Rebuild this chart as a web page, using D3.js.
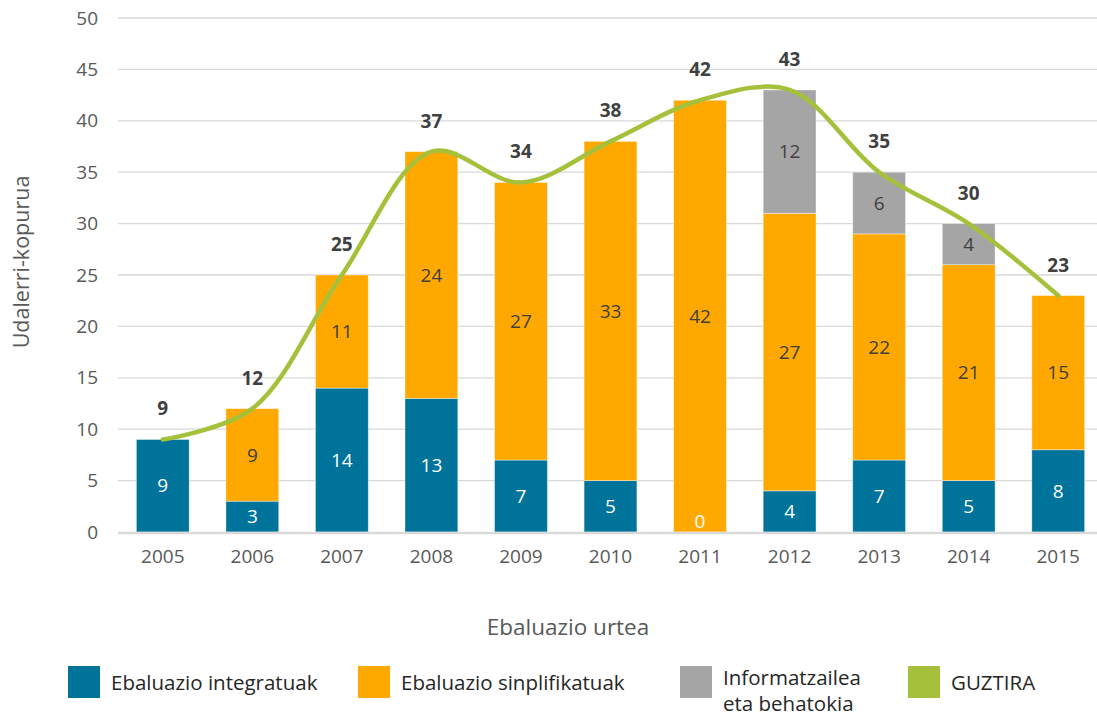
<!DOCTYPE html>
<html>
<head>
<meta charset="utf-8">
<style>
  body { margin: 0; background: #fff; }
  svg { display: block; font-family: "Open Sans", "Noto Sans", sans-serif; }
</style>
</head>
<body>
<div id="chart"></div>
<script src="https://d3js.org/d3.v7.min.js"></script>
<script>
const years = ["2005", "2006", "2007", "2008", "2009", "2010", "2011", "2012", "2013", "2014", "2015"];
const integratuak = [9, 3, 14, 13, 7, 5, 0, 4, 7, 5, 8];
const sinplifikatuak = [0, 9, 11, 24, 27, 33, 42, 27, 22, 21, 15];
const informatzailea = [0, 0, 0, 0, 0, 0, 0, 12, 6, 4, 0];
const guztira = [9, 12, 25, 37, 34, 38, 42, 43, 35, 30, 23];
const yTicks = [0, 5, 10, 15, 20, 25, 30, 35, 40, 45, 50];

const seriesNames = ["Ebaluazio integratuak", "Ebaluazio sinplifikatuak", "Informatzailea eta behatokia"];
const colors = ["#00739A", "#FFA800", "#A5A5A5"];
const lineColor = "#A5C13C";

const W = 1097, H = 718;
const plot = { left: 118, right: 1103, top: 18, bottom: 532 };

const svg = d3.select("#chart").append("svg")
  .attr("width", W).attr("height", H);

const x = d3.scaleBand().domain(years).range([plot.left, plot.right]).paddingInner(0.41).paddingOuter(0.205);
const y = d3.scaleLinear().domain([0, 50]).range([plot.bottom, plot.top]);

// gridlines
svg.append("g").selectAll("line")
  .data(yTicks.filter(d => d > 0))
  .join("line")
  .attr("x1", plot.left).attr("x2", plot.right)
  .attr("y1", d => y(d)).attr("y2", d => y(d))
  .attr("stroke", "#D9D9D9").attr("stroke-width", 1.3);

// y tick labels
const yAxis = d3.axisLeft(y).tickValues(yTicks).tickSize(0).tickPadding(20);
const gy = svg.append("g").attr("transform", `translate(${plot.left},0)`).call(yAxis);
gy.select(".domain").remove();
gy.selectAll("text").attr("font-size", 19).attr("fill", "#595959").attr("font-family", "Open Sans");

// stacked bars
const rows = years.map((yr, i) => ({ year: yr, a: integratuak[i], b: sinplifikatuak[i], c: informatzailea[i] }));
const stack = d3.stack().keys(["a", "b", "c"])(rows);

const layers = svg.append("g").selectAll("g")
  .data(stack).join("g")
  .attr("fill", (d, i) => colors[i]);

layers.selectAll("rect")
  .data(d => d.filter(p => p[1] - p[0] > 0))
  .join("rect")
  .attr("x", d => x(d.data.year))
  .attr("width", x.bandwidth())
  .attr("y", d => y(d[1]))
  .attr("height", d => y(d[0]) - y(d[1]))
  .attr("stroke", "#ffffff").attr("stroke-opacity", 0.5).attr("stroke-width", 0.8);

// x axis baseline
svg.append("line")
  .attr("x1", plot.left).attr("x2", plot.right)
  .attr("y1", y(0) + 1).attr("y2", y(0) + 1)
  .attr("stroke", "#D9D9D9").attr("stroke-width", 2.5);

// segment labels
stack.forEach((layer, li) => {
  svg.append("g").selectAll("text")
    .data(layer.filter(p => li === 0 || p[1] - p[0] > 0))
    .join("text")
    .attr("x", d => x(d.data.year) + x.bandwidth() / 2)
    .attr("y", d => Math.min((y(d[0]) + y(d[1])) / 2, y(0) - 11))
    .attr("dy", "0.35em")
    .attr("text-anchor", "middle")
    .attr("font-size", 19)
    .attr("fill", li === 0 ? "#ffffff" : "#404040")
    .text(d => d[1] - d[0]);
});

// total line
const line = d3.line()
  .x((d, i) => x(years[i]) + x.bandwidth() / 2)
  .y(d => y(d))
  .curve(d3.curveCatmullRom.alpha(0.5));

svg.append("path")
  .datum(guztira)
  .attr("d", line)
  .attr("fill", "none")
  .attr("stroke", lineColor)
  .attr("stroke-width", 4.5)
  .attr("stroke-linecap", "round")
  .attr("stroke-linejoin", "round");

// total labels
svg.append("g").selectAll("text")
  .data(guztira).join("text")
  .attr("x", (d, i) => x(years[i]) + x.bandwidth() / 2)
  .attr("y", d => y(d) - 24)
  .attr("text-anchor", "middle")
  .attr("font-size", 19)
  .attr("font-weight", "bold")
  .attr("fill", "#404040")
  .text(d => d);

// x tick labels
const xAxis = d3.axisBottom(x).tickSize(0).tickPadding(18);
const gx = svg.append("g").attr("transform", `translate(0,${plot.bottom})`).call(xAxis);
gx.select(".domain").remove();
gx.selectAll("text").attr("font-size", 19).attr("fill", "#595959").attr("font-family", "Open Sans");

// axis titles
svg.append("text")
  .attr("x", 568).attr("y", 635)
  .attr("text-anchor", "middle")
  .attr("font-size", 22.5).attr("fill", "#595959")
  .text("Ebaluazio urtea");

svg.append("text")
  .attr("transform", "translate(29,262) rotate(-90)")
  .attr("text-anchor", "middle")
  .attr("font-size", 21.5).attr("fill", "#595959")
  .text("Udalerri-kopurua");

// legend
const legendItems = [
  { label: ["Ebaluazio integratuak"], color: colors[0], x: 68 },
  { label: ["Ebaluazio sinplifikatuak"], color: colors[1], x: 358 },
  { label: ["Informatzailea", "eta behatokia"], color: colors[2], x: 680 },
  { label: ["GUZTIRA"], color: lineColor, x: 908 }
];

const lg = svg.append("g").selectAll("g")
  .data(legendItems).join("g")
  .attr("transform", d => `translate(${d.x},666)`);

lg.append("rect")
  .attr("width", 32).attr("height", 32)
  .attr("fill", d => d.color);

lg.each(function (d) {
  const t = d3.select(this).append("text")
    .attr("x", 43)
    .attr("font-size", 20.5)
    .attr("fill", "#262626");
  d.label.forEach((s, i) => {
    t.append("tspan")
      .attr("x", 43)
      .attr("y", d.label.length > 1 ? 19 + i * 26 : 24)
      .text(s);
  });
});
</script>
</body>
</html>
